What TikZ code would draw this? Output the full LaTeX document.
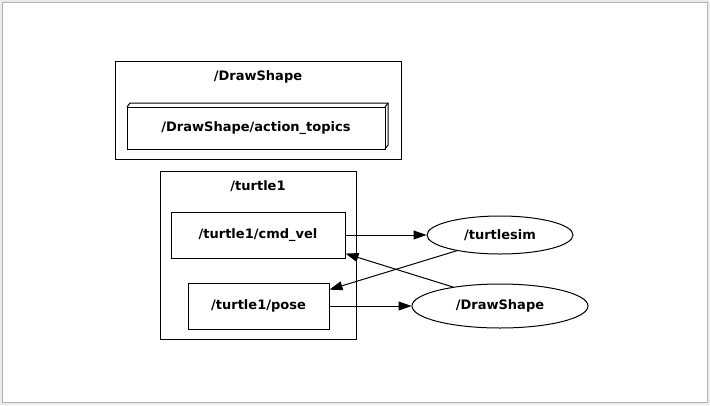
\documentclass[tikz,border=0pt]{standalone}
\usepackage{fontspec}
\setmainfont{DejaVu Sans}
\usetikzlibrary{shapes.geometric,arrows.meta}
\tikzset{
  lbl/.style={font=\bfseries\fontsize{13}{15}\selectfont},
  topic/.style={draw,line width=1pt,rectangle,inner sep=0pt,lbl},
  nodeell/.style={draw,line width=1pt,ellipse,inner sep=0pt,lbl},
  cluster/.style={draw,line width=1pt},
  edge/.style={line width=1pt,-{Triangle[length=13pt,width=9pt]}},
}
\begin{document}
\begin{tikzpicture}[x=1pt,y=-1pt]
\useasboundingbox (0,0) rectangle (710,405);
\fill[gray!15] (0,0) rectangle (710,405);
\filldraw[fill=white,draw=gray!60,line width=1pt] (2.5,2.5) rectangle (707.5,402.5);
% cluster DrawShape
\draw[cluster] (115,61) rectangle (401,159);
\node[lbl] (cl1) at (258,77) {/DrawShape};
% 3d box
\draw[line width=1pt] (127,107) -- (130,103) -- (388,103) -- (388,145) -- (385,149);
\draw[line width=1pt] (385,107) -- (388,103);
\node[topic,minimum width=258pt,minimum height=42pt] (at) at (256,128) {/DrawShape/action\_topics};
% cluster turtle1
\draw[cluster] (160,171) rectangle (356,339);
\node[lbl] (cl2) at (258,186) {/turtle1};
\node[topic,minimum width=174pt,minimum height=46pt] (cv) at (258,235) {/turtle1/cmd\_vel};
\node[topic,minimum width=141pt,minimum height=46pt] (po) at (258.5,306) {/turtle1/pose};
\node[nodeell,minimum width=146pt,minimum height=38pt] (ts) at (500,235) {/turtlesim};
\node[nodeell,minimum width=176pt,minimum height=44pt] (ds) at (500,306) {/DrawShape};
\draw[edge] (cv.east) -- (ts.west);
\draw[edge] (po.east) -- (ds.west);
\draw[edge] (ts.200) -- (po.13);
\draw[edge] (ds.158) -- (cv.-12);
\end{tikzpicture}
\end{document}
